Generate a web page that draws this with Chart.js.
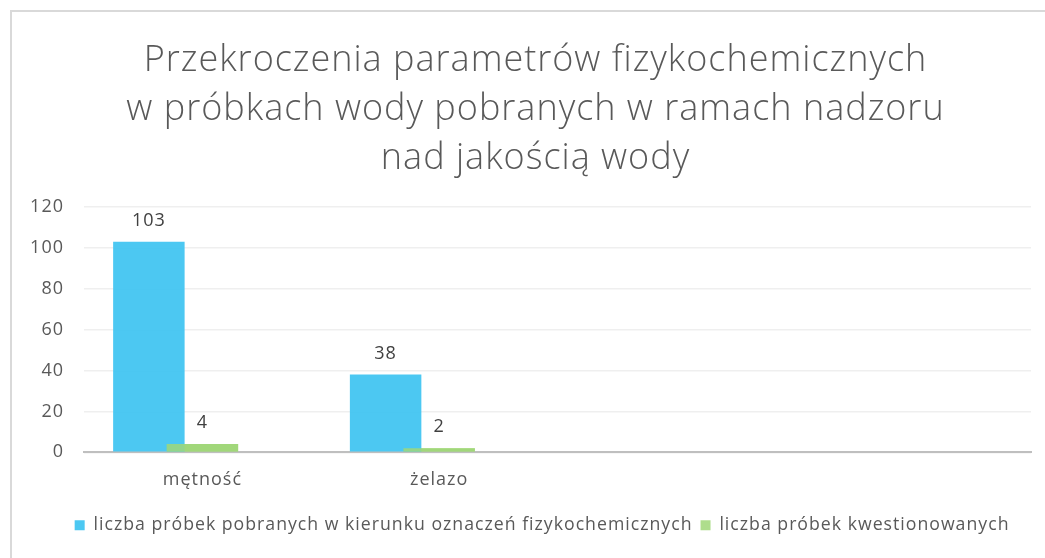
<!DOCTYPE html>
<html>
<head>
<meta charset="utf-8">
<script src="https://cdn.jsdelivr.net/npm/chart.js"></script>
<style>
  html, body { margin: 0; padding: 0; background: #fff; }
  #wrap { position: relative; width: 1045px; height: 558px; overflow: hidden; }
  #frame { position: absolute; left: 10px; top: 10px; width: 1100px; height: 600px;
           border-left: 2px solid #d9d9d9; border-top: 2px solid #d9d9d9; }
  canvas { position: absolute; left: 0; top: 0; }
</style>
</head>
<body>
<div id="wrap">
  <div id="frame"></div>
  <canvas id="myChart" width="1045" height="558"></canvas>
</div>
<script>
// dane z wykresu
var kategorie = ['mętność', 'żelazo', '', ''];
var pobrane = [103, 38, null, null];
var kwestionowane = [4, 2, null, null];
var pusta = [null, null, null, null]; // trzecia seria bez legendy
var tytul = ['Przekroczenia parametrów fizykochemicznych',
             'w próbkach wody pobranych w ramach nadzoru',
             'nad jakością wody'];

var grey = '#595959';
var fontName = "'Open Sans', sans-serif";

// troche szerszy tekst, jak w oryginale
var spacing = {
    id: 'spacing',
    beforeUpdate: function (chart) { chart.ctx.letterSpacing = '1px'; },
    beforeDraw: function (chart) { chart.ctx.letterSpacing = '1px'; },
    afterLayout: function (chart) {
        // legenda i tytul troche w prawo, jak w oryginale
        chart.legend.left += 26;
        chart.legend.right += 26;
        chart.titleBlock.left += 6;
        chart.titleBlock.right += 6;
    }
};

// zielone slupki na wierzch + etykiety wartosci
var valueLabels = {
    id: 'valueLabels',
    afterDatasetsDraw: function (chart) {
        var ctx = chart.ctx;
        chart.getDatasetMeta(1).controller.draw();
        ctx.save();
        ctx.font = '18px ' + fontName;
        ctx.fillStyle = '#404040';
        ctx.textAlign = 'center';
        ctx.textBaseline = 'bottom';
        chart.data.datasets.forEach(function (ds, i) {
            var meta = chart.getDatasetMeta(i);
            meta.data.forEach(function (bar, j) {
                var v = ds.data[j];
                if (v === null || v === undefined) return;
                ctx.fillText(v, bar.x, bar.y - 12);
            });
        });
        ctx.restore();
    }
};

var ctx = document.getElementById('myChart').getContext('2d');
var chart = new Chart(ctx, {
    type: 'bar',
    data: {
        labels: kategorie,
        datasets: [{
            label: 'liczba próbek pobranych w kierunku oznaczeń fizykochemicznych',
            backgroundColor: 'rgba(72, 199, 242, 0.98)',
            data: pobrane
        }, {
            label: 'liczba próbek kwestionowanych',
            backgroundColor: 'rgba(160, 215, 120, 0.85)',
            data: kwestionowane
        }, {
            label: '',
            backgroundColor: 'rgba(0,0,0,0)',
            data: pusta
        }]
    },
    options: {
        responsive: false,
        animation: false,
        datasets: {
            bar: {
                categoryPercentage: 0.678,
                barPercentage: 1.336
            }
        },
        layout: {
            padding: { left: 28, right: 14, top: 0, bottom: 14 }
        },
        plugins: {
            title: {
                display: true,
                text: tytul,
                color: grey,
                font: { family: fontName, size: 36, weight: '300', lineHeight: 1.36 },
                padding: { top: 36, bottom: 24 }
            },
            legend: {
                position: 'bottom',
                filter: function (item) { return item.text !== ''; },
                labels: {
                    color: grey,
                    boxWidth: 10,
                    boxHeight: 10,
                    padding: 8,
                    font: { family: fontName, size: 17.7 }
                }
            },
            tooltip: { enabled: false }
        },
        scales: {
            x: {
                grid: { display: false, drawTicks: false },
                border: { color: '#bfbfbf', width: 2 },
                ticks: { color: grey, padding: 17, font: { family: fontName, size: 18 } },
                afterFit: function (scale) { scale.height = 56; }
            },
            y: {
                min: 0,
                max: 120,
                ticks: { stepSize: 20, color: grey, padding: 20, font: { family: fontName, size: 18 } },
                grid: { color: '#efefef', lineWidth: 1.5, drawTicks: false },
                border: { display: false },
                afterFit: function (scale) { scale.width = 56; }
            }
        }
    },
    plugins: [spacing, valueLabels]
});
</script>
</body>
</html>
